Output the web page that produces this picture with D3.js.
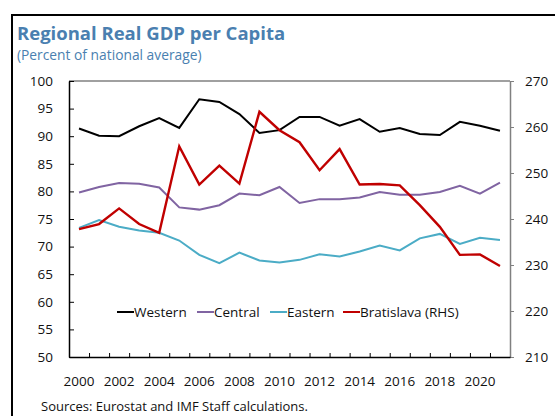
<!DOCTYPE html>
<html>
<head>
<meta charset="utf-8">
<script src="https://cdn.jsdelivr.net/npm/d3@7"></script>
<style>
  body { margin: 0; background: #fff; }
  svg { display: block; font-family: "Open Sans", "Noto Sans", sans-serif; }
</style>
</head>
<body>
<svg width="555" height="416"></svg>
<script>
var years = d3.range(2000, 2022);
var western = [91.4, 90.1, 90.0, 91.8, 93.3, 91.5, 96.7, 96.2, 94.0, 90.6, 91.1, 93.5, 93.5, 91.9, 93.1, 90.8, 91.5, 90.4, 90.2, 92.6, 91.9, 91.0];
var central = [79.8, 80.8, 81.5, 81.4, 80.7, 77.1, 76.7, 77.5, 79.6, 79.3, 80.8, 77.9, 78.6, 78.6, 78.9, 79.9, 79.4, 79.4, 79.9, 81.0, 79.6, 81.6];
var eastern = [73.4, 74.8, 73.6, 72.9, 72.5, 71.1, 68.5, 67.0, 68.9, 67.5, 67.1, 67.6, 68.6, 68.2, 69.1, 70.2, 69.3, 71.5, 72.3, 70.5, 71.6, 71.2];
var bratislava = [237.8, 238.9, 242.3, 238.9, 237.0, 255.8, 247.5, 251.6, 247.7, 263.3, 259.3, 256.7, 250.6, 255.2, 247.5, 247.6, 247.3, 243.0, 238.3, 232.2, 232.3, 229.8];
var leftTicks = d3.range(50, 101, 5);
var rightTicks = d3.range(210, 271, 10);
var xLabels = d3.range(2000, 2021, 2);

var series = [
  { name: "Western", values: western, color: "#000000", axis: "left" },
  { name: "Central", values: central, color: "#8064a2", axis: "left" },
  { name: "Eastern", values: eastern, color: "#4bacc6", axis: "left" },
  { name: "Bratislava (RHS)", values: bratislava, color: "#c00000", axis: "right" }
];

var svg = d3.select("svg");
var plotLeft = 69, plotRight = 510, plotTop = 81, plotBottom = 357;

// frame
svg.append("path")
   .attr("d", "M12,416 V15 H555")
   .attr("fill", "none")
   .attr("stroke", "#000")
   .attr("stroke-width", 2);

svg.append("text")
   .attr("x", 17).attr("y", 39.5)
   .attr("font-size", "18.5px")
   .attr("font-weight", "bold")
   .attr("fill", "#4a7fb0")
   .text("Regional Real GDP per Capita");

svg.append("text")
   .attr("x", 17).attr("y", 59.5)
   .attr("font-size", "13.8px")
   .attr("fill", "#4a7fb0")
   .text("(Percent of national average)");

var xBand = d3.scaleBand().domain(years).range([plotLeft, plotRight]);
var yL = d3.scaleLinear().domain([50, 100]).range([plotBottom, plotTop]);
var yR = d3.scaleLinear().domain([210, 270]).range([plotBottom, plotTop]);

// top border
svg.append("line")
   .attr("x1", plotLeft).attr("x2", plotRight).attr("y1", plotTop).attr("y2", plotTop)
   .attr("stroke", "#808080").attr("stroke-width", 1.5);

// left axis
var gL = svg.append("g").attr("transform", "translate(" + plotLeft + ",0)")
   .call(d3.axisLeft(yL).tickValues(leftTicks).tickSizeInner(-5).tickSizeOuter(0).tickPadding(16));
gL.select(".domain").attr("stroke", "#000").attr("stroke-width", 1.5);
gL.selectAll(".tick line").attr("stroke", "#000");
gL.selectAll("text").attr("font-size", "13.5px").attr("font-family", "Open Sans").attr("fill", "#111");

// right axis
var gR = svg.append("g").attr("transform", "translate(" + plotRight + ",0)")
   .call(d3.axisRight(yR).tickValues(rightTicks).tickSizeInner(4).tickSizeOuter(0).tickPadding(11));
gR.select(".domain").attr("stroke", "#808080").attr("stroke-width", 1.5);
gR.selectAll(".tick line").attr("stroke", "#808080");
gR.selectAll("text").attr("font-size", "13.5px").attr("font-family", "Open Sans").attr("fill", "#111");

// bottom axis: ticks at band boundaries
var bounds = years.slice(1).map(function(y) { return xBand(y); });
var xB = d3.scaleLinear().domain([plotLeft, plotRight]).range([plotLeft, plotRight]);
var gB = svg.append("g").attr("transform", "translate(0," + plotBottom + ")")
   .call(d3.axisBottom(xB).tickValues(bounds).tickSizeInner(-4).tickSizeOuter(0).tickFormat(""));
gB.select(".domain").attr("stroke", "#000").attr("stroke-width", 1.5);
gB.selectAll(".tick line").attr("stroke", "#000");

svg.append("g").selectAll("text")
   .data(xLabels)
   .enter().append("text")
   .attr("x", function(d) { return xBand(d) + xBand.bandwidth() / 2; })
   .attr("y", 386)
   .attr("text-anchor", "middle")
   .attr("font-size", "13.5px")
   .attr("fill", "#111")
   .text(function(d) { return d; });

// lines
series.forEach(function(s) {
  var yScale = s.axis == "left" ? yL : yR;
  var line = d3.line()
     .x(function(d, i) { return xBand(years[i]) + xBand.bandwidth() / 2; })
     .y(function(d) { return yScale(d); });
  svg.append("path")
     .datum(s.values)
     .attr("d", line)
     .attr("fill", "none")
     .attr("stroke", s.color)
     .attr("stroke-width", s.axis == "left" ? 2 : 2.4)
     .attr("stroke-linejoin", "miter");
});

// legend
var legendX = [117, 197, 270, 343];
var lg = svg.append("g").selectAll("g")
   .data(series)
   .enter().append("g")
   .attr("transform", function(d, i) { return "translate(" + legendX[i] + ",312)"; });
lg.append("line")
   .attr("x1", 0).attr("x2", 17)
   .attr("stroke", function(d) { return d.color; })
   .attr("stroke-width", 2);
lg.append("text")
   .attr("x", 17).attr("y", 5)
   .attr("font-size", "13.5px")
   .attr("fill", "#111")
   .text(function(d) { return d.name; });

svg.append("text")
   .attr("x", 41).attr("y", 411)
   .attr("font-size", "13px")
   .attr("fill", "#111")
   .text("Sources: Eurostat and IMF Staff calculations.");
</script>
</body>
</html>
